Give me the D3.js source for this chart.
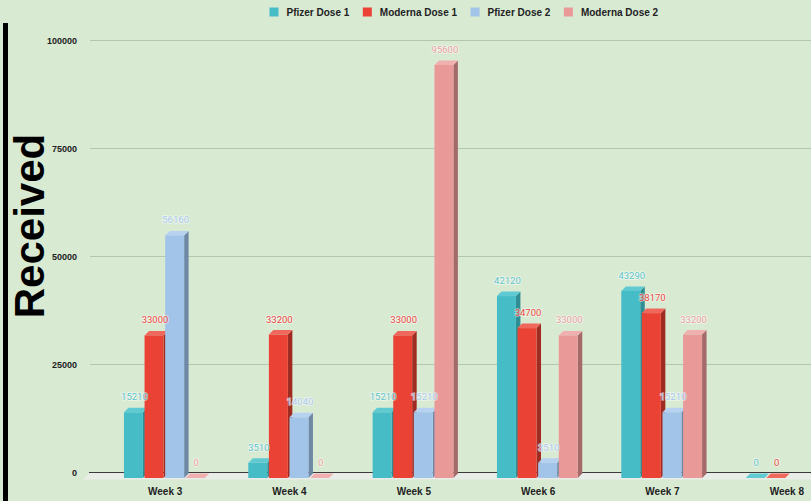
<!DOCTYPE html>
<html><head><meta charset="utf-8">
<script src="https://cdn.jsdelivr.net/npm/d3@7"></script>
<style>
html,body{margin:0;padding:0;background:#d9ead3;}
svg{display:block;}
</style></head>
<body>
<svg id="chart" width="811" height="501"></svg>
<script>
const weeks = ["Week 3","Week 4","Week 5","Week 6","Week 7","Week 8"];
const seriesNames = ["Pfizer Dose 1","Moderna Dose 1","Pfizer Dose 2","Moderna Dose 2"];
const pfizerDose1  = [15210, 3510, 15210, 42120, 43290, 0];
const modernaDose1 = [33000, 33200, 33000, 34700, 38170, 0];
const pfizerDose2  = [56160, 14040, 15210, 3510, 15210, null];
const modernaDose2 = [0, 0, 95600, 33000, 33200, null];
const yTicks = [0, 25000, 50000, 75000, 100000];
const axisTitle = "Received";

const seriesValues = [pfizerDose1, modernaDose1, pfizerDose2, modernaDose2];
const colors = [
  {front:"#46bdc6", top:"#5fcad2", side:"#2f8d94", label:"#5ec4cb"},
  {front:"#ea4335", top:"#f0685c", side:"#a02b22", label:"#e8473a"},
  {front:"#a2c4e9", top:"#b6d2f0", side:"#6f88a6", label:"#a8c8ee"},
  {front:"#ea9999", top:"#f0b0b0", side:"#a46a6a", label:"#eaa0a0"}
];

const svg = d3.select("#chart");
const W = 811, H = 501;
svg.append("rect").attr("width",W).attr("height",H).attr("fill","#d9ead3");

const yBack = d3.scaleLinear().domain([0,100000]).range([472.5,40.5]);
const yFront = d3.scaleLinear().domain([0,100000]).range([478,46]);
const x0 = d3.scaleBand().domain(weeks).range([103,849]).paddingInner(0.337).paddingOuter(0.1685);
const x1 = d3.scaleBand().domain(seriesNames).range([0, x0.bandwidth()]);
const barW = x1.bandwidth()*0.92;
const dx = 4.5, dy = -4.5;

// gridlines
svg.append("g").selectAll("line").data(yTicks.filter(t=>t>0)).join("line")
  .attr("x1",90).attr("x2",W).attr("y1",d=>yBack(d)).attr("y2",d=>yBack(d))
  .attr("stroke","#b3c7ab").attr("stroke-width",1.2);

// floor
svg.append("polygon").attr("points",`90,472.5 ${W},472.5 ${W},479.5 83,479.5`).attr("fill","#e9ede7");
svg.append("line").attr("x1",89).attr("x2",W).attr("y1",472.5).attr("y2",472.5)
  .attr("stroke","#3a3a3a").attr("stroke-width",1);

// y tick labels
svg.append("g").selectAll("text").data(yTicks).join("text")
  .attr("x",77).attr("y",d=>yBack(d)).attr("dy","0.35em").attr("text-anchor","end")
  .attr("font-family","Liberation Sans, Arial, sans-serif").attr("font-weight","bold")
  .attr("font-size",9).attr("fill","#222").text(d=>d);

// bars
const bars = [];
weeks.forEach((w,wi)=>{
  seriesNames.forEach((s,si)=>{
    const v = seriesValues[si][wi];
    if (v === null || v === undefined) return;
    bars.push({w, s, si, v});
  });
});
const bg = svg.append("g");
bars.forEach(b=>{
  const c = colors[b.si];
  const xl = x0(b.w) + x1(b.s);
  const xr = xl + barW;
  const yt = yFront(b.v);
  const yb = yFront(0);
  const g = bg.append("g");
  // side
  if (b.v > 0) {
    g.append("polygon").attr("points",`${xr},${yb} ${xr+dx},${yb+dy} ${xr+dx},${yt+dy} ${xr},${yt}`).attr("fill",c.side);
  }
  // top
  g.append("polygon").attr("points",`${xl},${yt} ${xl+dx},${yt+dy} ${xr+dx},${yt+dy} ${xr},${yt}`).attr("fill",c.top);
  // front
  if (b.v > 0) {
    g.append("rect").attr("x",xl).attr("y",yt).attr("width",barW).attr("height",yb-yt).attr("fill",c.front);
  }
});
// labels
svg.append("g").selectAll("text").data(bars).join("text")
  .attr("x",d=>x0(d.w)+x1(d.s)+barW/2+1)
  .attr("y",d=>yFront(d.v)-12)
  .attr("text-anchor","middle")
  .attr("font-family","Roboto, sans-serif").attr("font-size",9.5)
  .attr("fill",d=>colors[d.si].label)
  .attr("stroke","rgba(255,255,255,0.55)").attr("stroke-width",1.6)
  .attr("paint-order","stroke")
  .text(d=>d.v);

// x labels
svg.append("g").selectAll("text").data(weeks).join("text")
  .attr("x",d=>x0(d)+x0.bandwidth()/2).attr("y",494.5).attr("text-anchor","middle")
  .attr("font-family","Liberation Sans, Arial, sans-serif").attr("font-weight","bold")
  .attr("font-size",10).attr("fill","#222").text(d=>d);

// left black bar and title
svg.append("rect").attr("x",3).attr("y",23).attr("width",5).attr("height",H-23).attr("fill","#000");
svg.append("text").attr("transform","translate(44,226) rotate(-90)")
  .attr("text-anchor","middle")
  .attr("font-family","Liberation Sans, Arial, sans-serif").attr("font-weight","bold")
  .attr("font-size",42).attr("fill","#000").text(axisTitle);

// legend
const lg = svg.append("g");
let lx = 269.5;
seriesNames.forEach((s,i)=>{
  lg.append("rect").attr("x",lx).attr("y",7.5).attr("width",9).attr("height",9).attr("fill",colors[i].front);
  const t = lg.append("text").attr("x",lx+17).attr("y",15.5)
    .attr("font-family","Liberation Sans, Arial, sans-serif").attr("font-weight","bold")
    .attr("font-size",10).attr("fill","#222").text(s);
  lx = lx + 17 + t.node().getComputedTextLength() + 13.5;
});
</script>
</body></html>
